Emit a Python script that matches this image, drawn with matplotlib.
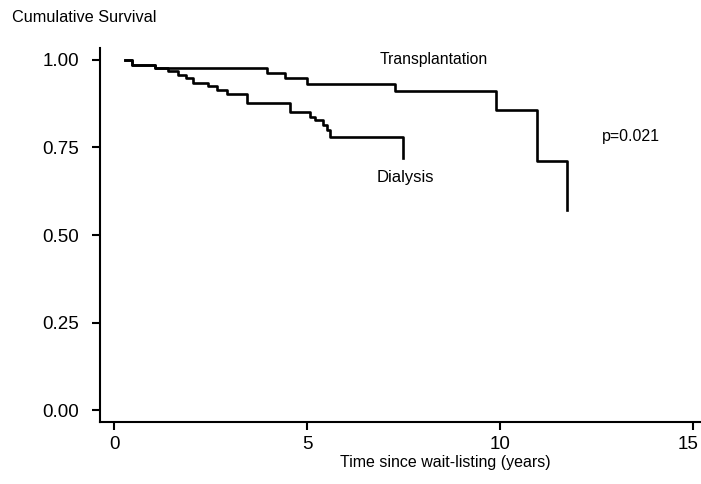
import matplotlib
matplotlib.use("Agg")
import matplotlib.pyplot as plt
from matplotlib.transforms import ScaledTranslation

plt.rcParams['font.family'] = ['Liberation Sans', 'DejaVu Sans']

# Data
trans_t = [0.28, 0.45, 1.05, 3.95, 4.42, 5.0, 7.27, 9.89, 10.96, 11.74]
trans_s = [1.0, 0.986, 0.978, 0.962, 0.948, 0.931, 0.911, 0.857, 0.712, 0.571]

dial_t = [0.28, 0.45, 1.05, 1.40, 1.65, 1.85, 2.05, 2.44, 2.65, 2.91, 3.43,
          4.55, 5.07, 5.2, 5.4, 5.5, 5.6, 7.49]
dial_s = [1.0, 0.986, 0.976, 0.967, 0.957, 0.947, 0.935, 0.926, 0.914, 0.903, 0.878,
          0.852, 0.838, 0.829, 0.814, 0.80, 0.781, 0.719]

x_ticks = [0, 5, 10, 15]
y_ticks = [0.0, 0.25, 0.5, 0.75, 1.0]
y_ticklabels = ["0.00", "0.25", "0.50", "0.75", "1.00"]

fig = plt.figure(figsize=(7.01, 4.84), dpi=100)
ax = fig.add_axes([100 / 701, 1 - 421.7 / 484, 1 - 100 / 701, (421.7 - 48) / 484])

ax.step(trans_t, trans_s, where='post', color='black', lw=1.9)
ax.step(dial_t, dial_s, where='post', color='black', lw=1.9)

ax.set_xlim(-0.37, 15.2)
ax.set_ylim(-0.033, 1.034)

ax.set_xticks(x_ticks)
ax.set_xticklabels([str(v) for v in x_ticks])
ax.set_yticks(y_ticks)
ax.set_yticklabels(y_ticklabels)

for s in ['top', 'right']:
    ax.spines[s].set_visible(False)
for s in ['left', 'bottom']:
    ax.spines[s].set_linewidth(1.5)

ax.tick_params(axis='y', direction='out', length=6, width=1.5, pad=9, labelsize=13.5)
ax.tick_params(axis='x', direction='out', length=6, width=1.5, pad=4, labelsize=13.5)

# keep the last x tick label inside the figure edge
last = ax.xaxis.get_major_ticks()[-1].label1
last.set_transform(last.get_transform() + ScaledTranslation(-4 / 72, 0, fig.dpi_scale_trans))

fig.text(12 / 701, 1 - 17 / 484, "Cumulative Survival", fontsize=11.7, va='center', ha='left')
fig.text(445 / 701, 1 - 463 / 484, "Time since wait-listing (years)", fontsize=11.5,
         va='center', ha='center')


def px_to_data(px, py):
    x = (px - 114.3) / 38.6
    y = (410 - py) / 350
    return x, y


x, y = px_to_data(434, 60)
ax.text(x, y, "Transplantation", fontsize=11.3, ha='center', va='center')
x, y = px_to_data(405, 178)
ax.text(x, y, "Dialysis", fontsize=12, ha='center', va='center')
x, y = px_to_data(631, 137)
ax.text(x, y, "p=0.021", fontsize=11.5, ha='center', va='center')

fig.savefig("out.png", dpi=100)
